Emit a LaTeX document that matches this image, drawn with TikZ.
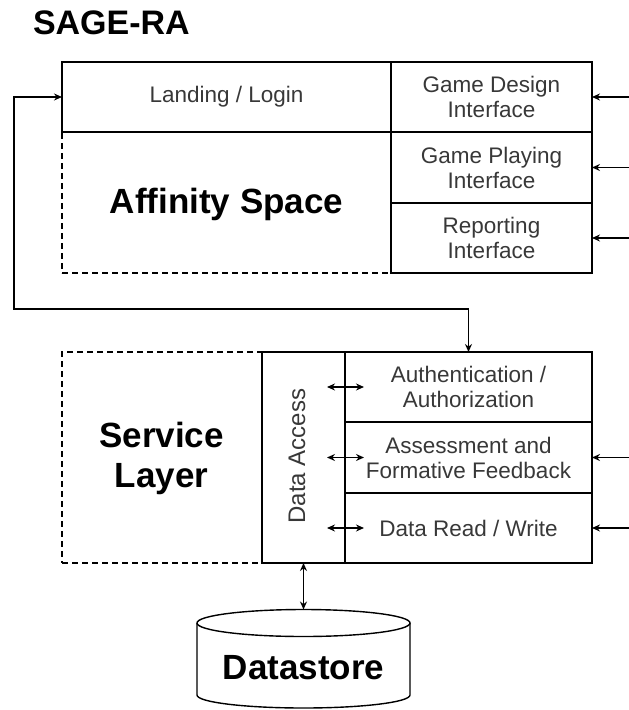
\documentclass[tikz,border=0pt]{standalone}
\usepackage{fontspec}
\setmainfont{Liberation Sans}
\usetikzlibrary{arrows.meta}
\begin{document}
\begin{tikzpicture}[x=1pt,y=-1pt,
  line width=1.4pt,
  every node/.style={inner sep=0pt,outer sep=0pt},
  box/.style={draw,rectangle,align=center,text=black!78,
    font=\fontsize{22.5}{25}\selectfont},
  zone/.style={draw,rectangle,dashed,dash pattern=on 6pt off 4pt,align=center,
    font=\fontsize{35}{40}\selectfont\bfseries},
  tip/.tip={Stealth[length=8pt,width=7pt]},
  arr/.style={-tip},
  darr/.style={tip-tip}]
\useasboundingbox (0,0) rectangle (629,710);
% title
\node[anchor=base west,font=\fontsize{34}{40}\selectfont\bfseries] (title) at (33,34) {SAGE-RA};
% upper block
\node[zone,minimum width=329pt,minimum height=141pt] (aff) at (226.5,202.5) {};
\node[font=\fontsize{35}{40}\selectfont\bfseries] (afftxt) at (226.5,204) {Affinity Space};
\node[box,minimum width=329pt,minimum height=70pt] (land) at (226.5,97) {Landing / Login};
\node[box,minimum width=201pt,minimum height=70pt] (gdi) at (491.5,97) {Game Design\\Interface};
\node[box,minimum width=201pt,minimum height=70.5pt] (gpi) at (491.5,167.5) {Game Playing\\Interface};
\node[box,minimum width=201pt,minimum height=70pt] (rpi) at (491.5,238) {Reporting\\Interface};
% lower block
\node[zone,minimum width=200pt,minimum height=211pt] (svc) at (162,457.5) {};
\node[align=center,font=\fontsize{35}{40}\selectfont\bfseries] (svctxt) at (161.5,458) {Service\\Layer};
\node[box,minimum width=83pt,minimum height=211pt] (da) at (303.5,457.5) {};
\node[rotate=90,text=black!78,font=\fontsize{24}{26}\selectfont] (datxt) at (297,456) {Data Access};
\node[box,minimum width=247pt,minimum height=70pt] (auth) at (468.5,387) {Authentication /\\Authorization};
\node[box,minimum width=247pt,minimum height=71pt] (asm) at (468.5,457.5) {Assessment and\\Formative Feedback};
\node[box,minimum width=247pt,minimum height=70pt] (drw) at (468.5,528) {Data Read / Write};
% datastore cylinder
\draw (197,623) -- (197,695) arc[start angle=180,end angle=360,x radius=106.5pt,y radius=13pt] -- (410,623);
\draw (303.5,623) ellipse[x radius=106.5pt,y radius=13.5pt];
\coordinate (dstop) at (303.5,609.5);
\node[font=\fontsize{35}{40}\selectfont\bfseries] (ds) at (303.5,668) {Datastore};
% incoming arrows from the right
\coordinate (in1) at (629,97);
\coordinate (in2) at (629,167.5);
\coordinate (in3) at (629,238);
\coordinate (in4) at (629,457.5);
\coordinate (in5) at (629,528);
\draw[arr] (in1) -- (gdi.east);
\draw[arr] (in2) -- (gpi.east);
\draw[arr] (in3) -- (rpi.east);
\draw[arr] (in4) -- (asm.east);
\draw[arr] (in5) -- (drw.east);
% loop connector
\coordinate (c1) at (14,97);
\coordinate (c2) at (14,309);
\coordinate (c3) at (468.5,309);
\draw[darr] (land.west) -- (c1) -- (c2) -- (c3) -- (auth.north);
% data access double arrows
\coordinate (a1l) at (327,387);   \coordinate (a1r) at (364,387);
\coordinate (a2l) at (327,457.5); \coordinate (a2r) at (364,457.5);
\coordinate (a3l) at (327,528);   \coordinate (a3r) at (364,528);
\draw[darr] (a1l) -- (a1r);
\draw[darr] (a2l) -- (a2r);
\draw[darr] (a3l) -- (a3r);
\draw[darr] (da.south) -- (dstop);
\end{tikzpicture}
\end{document}
